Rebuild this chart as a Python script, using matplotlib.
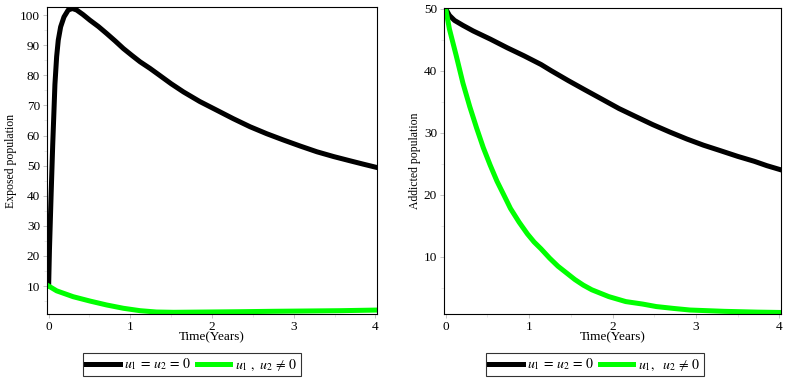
import numpy as np
import matplotlib
matplotlib.use("Agg")
import matplotlib.pyplot as plt

plt.rcParams['font.family'] = ['Liberation Serif', 'DejaVu Serif']
plt.rcParams['mathtext.fontset'] = 'stix'

# ---- exposed population (left) ----
t_e0 = [0, 0.01, 0.03, 0.05, 0.065, 0.077, 0.098, 0.118, 0.147, 0.188, 0.24, 0.29,
        0.343, 0.42, 0.506, 0.61, 0.71, 0.815, 0.915, 1.02, 1.119, 1.241, 1.343,
        1.5, 1.65, 1.85, 2.059, 2.26, 2.467, 2.67, 2.875, 3.08, 3.284, 3.49, 3.69, 3.85, 4.0]
e_u0 = [10, 22, 40, 57, 68, 77, 86.2, 91.7, 96.1, 99.4, 101.7, 102.2,
        101.7, 100.2, 98.3, 96.2, 93.9, 91.4, 88.9, 86.6, 84.5, 82.3, 80.3,
        77.2, 74.5, 71.3, 68.4, 65.6, 62.9, 60.6, 58.5, 56.5, 54.6, 53.0, 51.6, 50.5, 49.5]
t_e1 = [0, 0.098, 0.30, 0.506, 0.71, 0.915, 1.12, 1.32, 1.53, 1.94, 2.34, 2.75, 3.16, 3.57, 4.0]
e_u1 = [10, 8.4, 6.45, 5.0, 3.7, 2.6, 1.8, 1.36, 1.26, 1.36, 1.46, 1.6, 1.7, 1.8, 2.0]

# ---- addicted population (right) ----
t_a0 = [0, 0.02, 0.045, 0.106, 0.207, 0.33, 0.533, 0.737, 0.939, 1.143, 1.265, 1.47,
        1.671, 1.875, 2.078, 2.28, 2.484, 2.69, 2.89, 3.09, 3.297, 3.5, 3.70, 3.85, 4.0]
a_u0 = [50, 49.5, 48.9, 48.1, 47.3, 46.4, 45.1, 43.7, 42.4, 41.0, 40.0, 38.4,
        36.9, 35.4, 33.9, 32.6, 31.3, 30.1, 29.0, 28.0, 27.1, 26.2, 25.4, 24.7, 24.1]
t_a1 = [0, 0.045, 0.127, 0.207, 0.289, 0.37, 0.451, 0.533, 0.615, 0.7, 0.777, 0.88, 0.98,
        1.06, 1.143, 1.246, 1.346, 1.45, 1.549, 1.65, 1.752, 1.956, 2.159, 2.362,
        2.524, 2.73, 2.93, 3.34, 3.74, 4.0]
a_u1 = [50, 46.7, 42.4, 38.0, 34.2, 30.8, 27.6, 24.8, 22.2, 19.9, 17.8, 15.6, 13.7,
        12.4, 11.3, 9.8, 8.5, 7.4, 6.35, 5.45, 4.7, 3.6, 2.8, 2.4,
        2.0, 1.7, 1.44, 1.23, 1.1, 1.05]

fig = plt.figure(figsize=(7.88, 3.85), dpi=100)
ax1 = fig.add_axes([47/788, 1-314/385, 330/788, 307/385])
ax2 = fig.add_axes([444/788, 1-314/385, 337/788, 306/385])

BLACK, GREEN = 'black', '#00ff00'
LW = 3.6

ax1.plot(t_e0, e_u0, color=BLACK, lw=LW, label=r'$u_1\,=\,u_2\,=\,0$')
ax1.plot(t_e1, e_u1, color=GREEN, lw=LW, label=r'$u_1\ ,\ u_2\,\neq\,0$')
ax1.set_xlim(-0.02, 4.02)
ax1.set_ylim(0.7, 102.7)
ax1.set_yticks(np.arange(10, 101, 10))
ax1.set_yticks(np.arange(5, 101, 5), minor=True)
ax1.set_ylabel('Exposed population', fontsize=8.5, labelpad=2)

ax2.plot(t_a0, a_u0, color=BLACK, lw=LW, label=r'$u_1\,=\,u_2\,=\,0$')
ax2.plot(t_a1, a_u1, color=GREEN, lw=LW, label=r'$u_1,\ \ u_2\,\neq\,0$')
ax2.set_xlim(-0.02, 4.02)
ax2.set_ylim(0.8, 50.1)
ax2.set_yticks(np.arange(10, 51, 10))
ax2.set_yticks(np.arange(5, 51, 5), minor=True)
ax2.set_ylabel('Addicted population', fontsize=8.5, labelpad=2)

for ax, cx in ((ax1, 192), (ax2, 595)):
    ax.set_xticks([0, 1, 2, 3, 4])
    ax.set_xticks(np.arange(0, 4.01, 0.5), minor=True)
    ax.set_xlabel('Time(Years)', fontsize=9.5, labelpad=-1)
    ax.tick_params(labelsize=9.5, length=3, width=0.6, color='#bbbbbb', pad=2)
    ax.tick_params(which='minor', length=2, width=0.5, color='#dddddd')
    for s in ax.spines.values():
        s.set_linewidth(0.8)
    leg = fig.legend(handles=ax.get_lines(), loc='center', ncol=2,
                     bbox_to_anchor=(cx/788, 1-364.5/385), fontsize=10,
                     frameon=True, fancybox=False, edgecolor='black',
                     handlelength=2.4, handletextpad=0.35, columnspacing=0.4,
                     borderpad=0.25, borderaxespad=0)
    leg.get_frame().set_linewidth(0.8)

fig.savefig('out.png', dpi=100)
